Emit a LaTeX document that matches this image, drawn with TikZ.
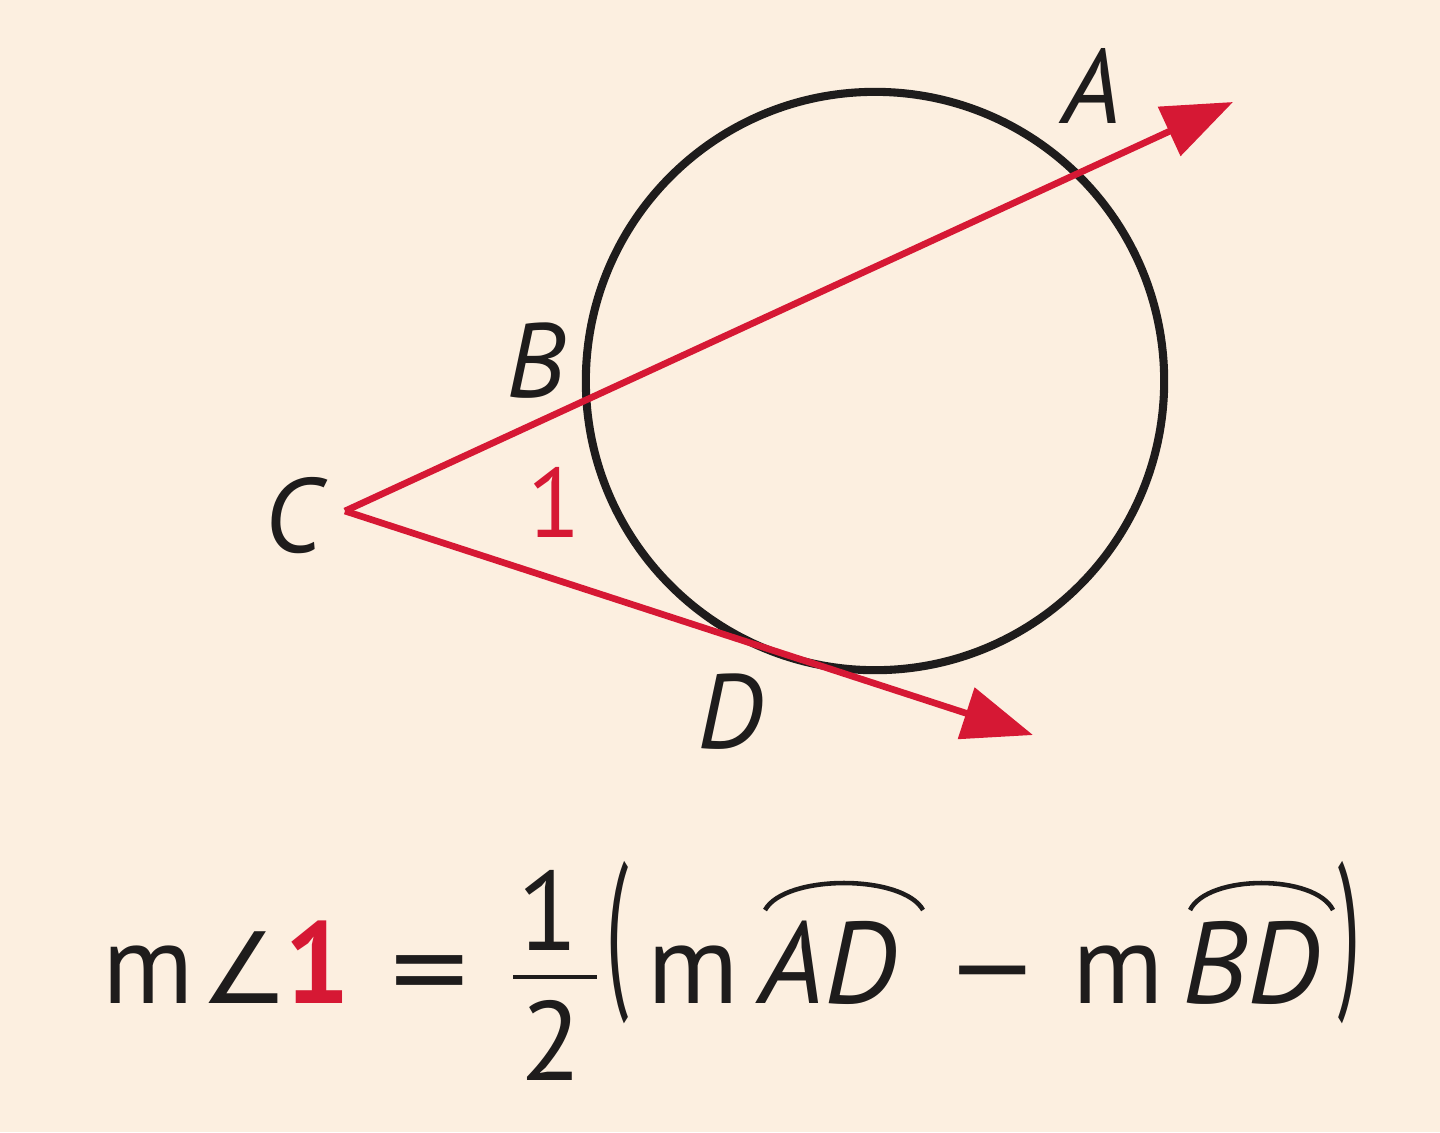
\documentclass[tikz,border=0pt]{standalone}
\usepackage{fontspec}
\usepackage{graphicx}
\setmainfont{PT Sans}
\newfontfamily\symbolfont{DejaVu Sans}
\usetikzlibrary{arrows.meta}
\definecolor{peach}{RGB}{252, 239, 224}
\definecolor{crimson}{RGB}{214, 24, 52}
\definecolor{inkblack}{RGB}{30, 28, 28}
\tikzset{
  ray/.style={color=crimson, line width=1.9pt, -{Triangle[length=20pt,width=15pt]}},
  ptlabel/.style={inner sep=0pt, anchor=base, text=inkblack, font=\fontsize{30}{30}\selectfont\itshape},
  eqtext/.style={inner sep=0pt, anchor=base, text=inkblack, font=\fontsize{32}{32}\selectfont},
  eqpoints/.style={eqtext, font=\fontsize{33}{33}\selectfont\itshape},
  arcmark/.style={color=inkblack, line width=1.3pt}
}

\begin{document}
\begin{tikzpicture}[x=0.01cm, y=-0.01cm]
            \fill[peach] (0,0) rectangle (1440,1132);
            \useasboundingbox (0,0) rectangle (1440,1132);
            \coordinate (O)    at ( 875, 381);
            \coordinate (C)    at ( 345, 511);
            \coordinate (Atip) at (1233, 102);
            \coordinate (Dtip) at (1033, 735);
            \draw[color=inkblack, line width=2.3pt] (O) circle [radius=2.89cm];
            \draw[ray] (C) -- (Atip);
            \draw[ray] (C) -- (Dtip);
            \node[ptlabel]                                                (lblA)   at (1092, 123) {A};
            \node[ptlabel]                                                (lblB)   at ( 536, 397) {B};
            \node[ptlabel]                                                (lblC)   at ( 293, 552) {C};
            \node[ptlabel]                                                (lblD)   at ( 730, 748) {D};
            \node[ptlabel, text=crimson, font=\fontsize{28}{28}\selectfont] (lblone) at ( 554, 537) {1};
            \node[eqtext]                                                 (eqm)    at ( 148,1003) {m};
            \node[eqtext, font=\fontsize{28}{28}\selectfont\symbolfont]  (eqang)  at ( 245,1003) {∠};
            \node[eqtext, text=crimson, font=\fontsize{33}{33}\selectfont\bfseries] (eqone) at ( 317,1003) {1};
            \node[eqtext, font=\fontsize{30}{30}\selectfont\symbolfont]  (eqeq)   at ( 430,1003) {=};
            \node[eqtext]                                                 (eqnum)  at ( 548, 950) {1};
            \node[eqtext]                                                 (eqden)  at ( 551,1080) {2};
            \draw[color=inkblack, line width=1.4pt] (513,977) -- (597,977);
            \node[eqtext, anchor=center]                                  (eqlp)   at ( 618, 943) {\scalebox{0.7}[1.55]{(}};
            \node[eqtext]                                                 (eqm2)   at ( 693,1003) {m};
            \node[eqpoints]                                               (eqAD)   at ( 828,1003) {AD};
            \draw[arcmark] (765,910) .. controls (785,874) and (903,874) .. (923,910);
            \node[eqtext, font=\fontsize{30}{30}\selectfont\symbolfont]  (eqmin)  at ( 993,1003) {−};
            \node[eqtext]                                                 (eqm3)   at (1118,1003) {m};
            \node[eqpoints]                                               (eqBD)   at (1251,1003) {BD};
            \draw[arcmark] (1190,910) .. controls (1208,874) and (1315,874) .. (1333,910);
            \node[eqtext, anchor=center]                                  (eqrp)   at (1350, 943) {\scalebox{0.7}[1.55]{)}};
\end{tikzpicture}
\end{document}
